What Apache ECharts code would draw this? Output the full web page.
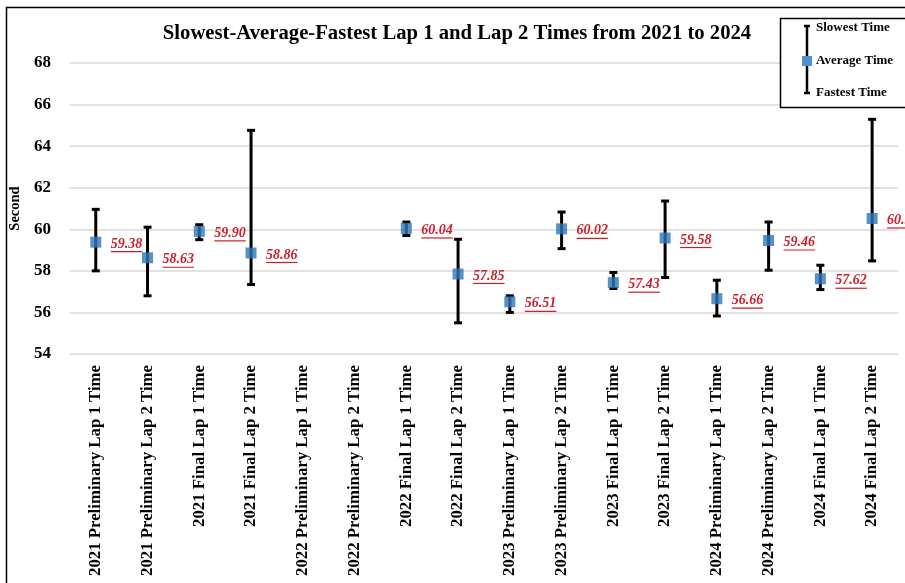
<!DOCTYPE html>
<html>
<head>
<meta charset="utf-8">
<script src="https://cdn.jsdelivr.net/npm/echarts@6/dist/echarts.min.js"></script>
<style>
  html, body { margin: 0; padding: 0; background: #fff; }
  #chart { width: 905px; height: 583px; }
</style>
</head>
<body>
<div id="chart"></div>
<script>
// Lap time summary per event: slowest, average and fastest (seconds)
const categories = [
  '2021 Preliminary Lap 1 Time', '2021 Preliminary Lap 2 Time',
  '2021 Final Lap 1 Time', '2021 Final Lap 2 Time',
  '2022 Preliminary Lap 1 Time', '2022 Preliminary Lap 2 Time',
  '2022 Final Lap 1 Time', '2022 Final Lap 2 Time',
  '2023 Preliminary Lap 1 Time', '2023 Preliminary Lap 2 Time',
  '2023 Final Lap 1 Time', '2023 Final Lap 2 Time',
  '2024 Preliminary Lap 1 Time', '2024 Preliminary Lap 2 Time',
  '2024 Final Lap 1 Time', '2024 Final Lap 2 Time'
];
const slowestTime = [60.96, 60.10, 60.22, 64.76, null, null, 60.35, 59.52, 56.80, 60.83, 57.92, 61.36, 57.55, 60.35, 58.27, 65.29];
const averageTime = [59.38, 58.63, 59.90, 58.86, null, null, 60.04, 57.85, 56.51, 60.02, 57.43, 59.58, 56.66, 59.46, 57.62, 60.52];
const fastestTime = [58.00, 56.80, 59.50, 57.34, null, null, 59.70, 55.50, 56.00, 59.07, 57.15, 57.68, 55.83, 58.03, 57.10, 58.48];
const yTicks = { min: 54, max: 68, step: 2 };

const SERIF = '"Liberation Serif", "Times New Roman", serif';
const LABEL_FONT = 'italic bold 14px ' + SERIF;
const LABEL_RED = '#cc1f2b';
const MARKER_BLUE = '#2e75b6';

const measureCtx = document.createElement('canvas').getContext('2d');
measureCtx.font = LABEL_FONT;

const rangeData = [];
const avgData = [];
categories.forEach((c, i) => {
  if (averageTime[i] == null) return;
  rangeData.push([i, slowestTime[i], fastestTime[i]]);
  avgData.push([i, averageTime[i]]);
});

// Vertical whisker from fastest to slowest with flat caps
function renderRange(params, api) {
  const i = api.value(0);
  const top = api.coord([i, api.value(1)]);
  const bot = api.coord([i, api.value(2)]);
  const half = 4;
  const st = { stroke: '#000', lineWidth: 3 };
  return {
    type: 'group',
    children: [
      { type: 'line', shape: { x1: top[0], y1: top[1], x2: bot[0], y2: bot[1] }, style: st },
      { type: 'line', shape: { x1: top[0] - half, y1: top[1], x2: top[0] + half, y2: top[1] }, style: st },
      { type: 'line', shape: { x1: bot[0] - half, y1: bot[1], x2: bot[0] + half, y2: bot[1] }, style: st }
    ]
  };
}

// Underlined average-value label to the right of each marker
function renderLabel(params, api) {
  const i = api.value(0);
  const v = api.value(1);
  const p = api.coord([i, v]);
  const txt = v.toFixed(2);
  const w = measureCtx.measureText(txt).width;
  const x0 = p[0] + 15;
  return {
    type: 'group',
    children: [
      { type: 'text', x: x0, y: p[1] + 2,
        style: { text: txt, font: LABEL_FONT, fill: LABEL_RED, align: 'left', verticalAlign: 'middle' } },
      { type: 'line', shape: { x1: x0, y1: p[1] + 9.5, x2: x0 + w, y2: p[1] + 9.5 },
        style: { stroke: LABEL_RED, lineWidth: 1.2 } }
    ]
  };
}

const chart = echarts.init(document.getElementById('chart'), null, { renderer: 'canvas' });

const legendX = 807;
const legendFont = 'bold 13px ' + SERIF;
chart.setOption({
  backgroundColor: '#fff',
  animation: false,
  title: {
    text: 'Slowest-Average-Fastest Lap 1 and Lap 2 Times from 2021 to 2024',
    left: 452, top: 18, textAlign: 'center',
    textStyle: { fontFamily: SERIF, fontWeight: 'bold', fontSize: 20.7, color: '#000' }
  },
  grid: { left: 69, right: 7, top: 63, bottom: 229, containLabel: false },
  xAxis: {
    type: 'category',
    data: categories,
    boundaryGap: true,
    axisLine: { show: false },
    axisTick: { show: false },
    axisLabel: {
      interval: 0, rotate: 90, margin: 11,
      fontFamily: SERIF, fontWeight: 'bold', fontSize: 16.8, color: '#000'
    }
  },
  yAxis: {
    type: 'value',
    min: yTicks.min, max: yTicks.max, interval: yTicks.step,
    name: 'Second', nameLocation: 'middle', nameRotate: 90, nameGap: 41,
    nameTextStyle: { fontFamily: SERIF, fontWeight: 'bold', fontSize: 14.5, color: '#000' },
    axisLine: { show: false },
    axisTick: { show: false },
    axisLabel: { margin: 19, fontFamily: SERIF, fontWeight: 'bold', fontSize: 17, color: '#000' },
    splitLine: { lineStyle: { color: '#d9d9d9', width: 1.5 } }
  },
  series: [
    { type: 'custom', name: 'Range', renderItem: renderRange, data: rangeData, z: 2,
      encode: { x: 0, y: [1, 2] } },
    { type: 'scatter', name: 'Average Time', data: avgData, symbol: 'rect', symbolSize: 11,
      itemStyle: { color: MARKER_BLUE }, z: 3 },
    { type: 'custom', name: 'Labels', renderItem: renderLabel, data: avgData, z: 4,
      encode: { x: 0, y: 1 } }
  ],
  graphic: [
    { type: 'rect', shape: { x: 6.5, y: 7.5, width: 1000, height: 1000 },
      style: { fill: 'none', stroke: '#000', lineWidth: 1.5 }, z: 100 },
    { type: 'rect', shape: { x: 780.5, y: 18.5, width: 130, height: 89 },
      style: { fill: '#fff', stroke: '#000', lineWidth: 1.5 }, z: 100 },
    { type: 'line', shape: { x1: legendX, y1: 26, x2: legendX, y2: 93 },
      style: { stroke: '#000', lineWidth: 2.5 }, z: 101 },
    { type: 'line', shape: { x1: legendX - 3, y1: 26, x2: legendX + 3, y2: 26 },
      style: { stroke: '#000', lineWidth: 2.5 }, z: 101 },
    { type: 'line', shape: { x1: legendX - 3, y1: 93, x2: legendX + 3, y2: 93 },
      style: { stroke: '#000', lineWidth: 2.5 }, z: 101 },
    { type: 'rect', shape: { x: legendX - 5, y: 56, width: 10, height: 10 },
      style: { fill: '#4f91d0' }, z: 102 },
    { type: 'text', x: 816, y: 28, z: 101,
      style: { text: 'Slowest Time', font: legendFont, fill: '#000', verticalAlign: 'middle' } },
    { type: 'text', x: 816, y: 61, z: 101,
      style: { text: 'Average Time', font: legendFont, fill: '#000', verticalAlign: 'middle' } },
    { type: 'text', x: 816, y: 93, z: 101,
      style: { text: 'Fastest Time', font: legendFont, fill: '#000', verticalAlign: 'middle' } }
  ]
});
</script>
</body>
</html>
